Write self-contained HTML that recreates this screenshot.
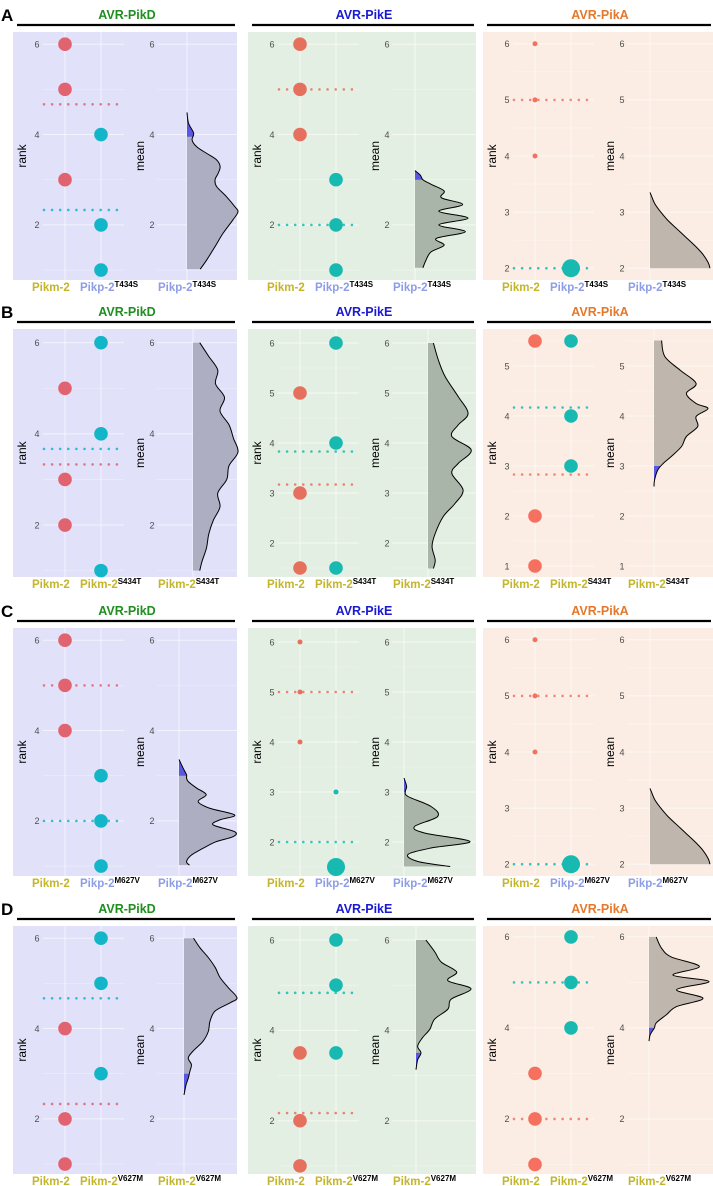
<!DOCTYPE html>
<html><head><meta charset="utf-8"><style>
html,body{margin:0;padding:0;background:#fff;}
svg{display:block;font-family:"Liberation Sans",sans-serif;}
</style></head><body>
<svg id="fig" width="713" height="1186" viewBox="0 0 713 1186" xmlns="http://www.w3.org/2000/svg"></svg>
<script>
// ---- data (panels row-major: A1..A3, B1..B3, C1..C3, D1..D3) ----
const panelNames = ['A-PikD','A-PikE','A-PikA','B-PikD','B-PikE','B-PikA','C-PikD','C-PikE','C-PikA','D-PikD','D-PikE','D-PikA'];
const effectors = ['AVR-PikD','AVR-PikE','AVR-PikA'];
const rowLetters = ['A','B','C','D'];
const secondLabel = ['Pikp-2','Pikm-2','Pikp-2','Pikm-2'];
const secondSup = ['T434S','S434T','M627V','V627M'];
const yLo = [0.78,0.78,1.79, 0.86,1.32,0.78, 0.78,1.32,1.79, 0.78,0.82,0.79];
const yHi = [6.27,6.27,6.21, 6.30,6.28,5.74, 6.27,6.28,6.21, 6.27,6.31,6.24];
const tickVals = [[2,4,6],[2,4,6],[2,3,4,5,6],[2,4,6],[2,3,4,5,6],[1,2,3,4,5],[2,4,6],[2,3,4,5,6],[2,3,4,5,6],[2,4,6],[2,4,6],[2,4,6]];
const redRanks = [[6,5,3],[6,5,4],[6,5,4],[5,3,2],[5,3,1.5],[5.5,2,1],[6,5,4],[6,5,4],[6,5,4],[4,2,1],[3.5,2,1],[3,2,1]];
const redSizes = [[1,1,1],[1,1,1],[1,1,1],[1,1,1],[1,1,1],[1,1,1],[1,1,1],[1,1,1],[1,1,1],[1,1,1],[1,1,1],[1,1,1]];
const cyanRanks = [[4,2,1],[3,2,1],[2],[6,4,1],[6,4,1.5],[5.5,4,3],[3,2,1],[3,1.5],[2],[6,5,3],[6,5,3.5],[6,5,4]];
const cyanSizes = [[1,1,1],[1,1,1],[12],[1,1,1],[1,1,1],[1,1,1],[1,1,1],[1,10],[12],[1,1,1],[1,1,1],[1,1,1]];
const redMean = [4.67,5,5, 3.33,3.17,2.83, 5,5,5, 2.33,2.17,2];
const cyanMean = [2.33,2,2, 3.67,3.83,4.17, 2,2,2, 4.67,4.83,5];
const densV = [
 [4.49,4.25,4.03,3.88,3.73,3.58,3.44,3.29,3.14,3.0,2.85,2.63,2.40,2.29,2.11,1.82,1.52,1.23,1.02],
 [3.2,3.1,3.0,2.9,2.75,2.6,2.45,2.3,2.15,2.0,1.85,1.7,1.55,1.4,1.2,1.05],
 [3.35,3.3,3.15,3.0,2.85,2.7,2.55,2.4,2.25,2.1,2.0],
 [6.0,5.7,5.4,5.1,4.8,4.5,4.2,3.9,3.6,3.3,3.0,2.7,2.4,2.1,1.8,1.5,1.2,1.0],
 [6.0,5.66,5.33,4.93,4.59,4.36,4.13,3.86,3.59,3.39,3.06,2.79,2.53,2.19,1.93,1.66,1.49],
 [5.51,5.19,4.92,4.65,4.45,4.25,4.15,3.99,3.79,3.59,3.39,3.19,3.05,2.92,2.72,2.59],
 [3.36,3.17,3.02,2.95,2.87,2.73,2.58,2.43,2.28,2.13,2.02,1.91,1.76,1.65,1.54,1.39,1.24,1.10,1.02],
 [3.28,3.11,3.01,2.91,2.71,2.51,2.31,2.18,2.01,1.88,1.75,1.61,1.51],
 [3.35,3.3,3.15,3.0,2.85,2.7,2.55,2.4,2.25,2.1,2.0],
 [6.0,5.79,5.57,5.35,5.13,4.90,4.68,4.57,4.39,4.16,3.94,3.72,3.50,3.35,3.20,3.05,2.90,2.76,2.53],
 [6.0,5.74,5.51,5.29,5.10,4.92,4.69,4.47,4.25,4.02,3.84,3.65,3.50,3.35,3.13],
 [6.0,5.75,5.56,5.35,5.16,5.02,4.84,4.65,4.47,4.29,4.11,4.0,3.85,3.71]
];
const densD = [
 [0,.03,.13,.10,.19,.39,.58,.65,.61,.55,.58,.77,.94,1,.90,.71,.55,.39,.26],
 [0,.1,.15,.3,.55,.5,.9,.45,1,.45,.95,.4,.55,.3,.2,.15],
 [0,.02,.08,.18,.3,.45,.6,.75,.88,.97,1],
 [.15,.35,.55,.5,.7,.6,.8,.9,1,.8,.75,.55,.6,.45,.35,.3,.2,.15],
 [.12,.23,.38,.67,.89,.67,.53,.96,.67,.53,.78,.60,.34,.16,.09,.16,.12],
 [.14,.20,.48,.78,.60,.78,1,.78,.81,.60,.51,.32,.17,.07,.01,0],
 [0,.07,.13,.13,.16,.30,.47,.33,.53,.96,.70,.59,.96,.93,.64,.41,.21,.13,.18],
 [0,.04,.02,.06,.41,.51,.16,.31,1,.41,.06,.21,.70],
 [0,.02,.08,.18,.3,.45,.6,.75,.88,.97,1],
 [.18,.30,.46,.59,.68,.84,1,.87,.59,.49,.46,.36,.17,.08,.14,.11,.08,.04,0],
 [.18,.34,.46,.74,.58,1,.64,.58,.34,.25,.12,.03,.09,.03,0],
 [.12,.21,.37,.84,.40,1,.46,.90,.46,.29,.12,.09,.02,0]
];
const blueLo = [null,null,null, null,null,3.0, null,null,null, 3.0,3.5,4.0];
const blueHi = [3.95,3.0,null, null,null,null, 3.0,3.0,null, null,null,null];

// ---- layout / style ----
const cols = [{L:13,R:237},{L:248,R:476},{L:483,R:713}];
const rowTop = [32,329,628,926];
const H = 248;
const densBase = [174,167,167, 180,180,171, 166,156,167, 171,168,166];
const densW = [51,53,60, 45,45,54, 58,66,60, 53,55,60];
const bgCol = ['#e1e1fa','#e4efe3','#fbede4'];
const redCol = ['#e1636f','#e6705e','#f6705f'];
const cyanCol = ['#13b5c9','#17b9b1','#17b9b1'];
const titleCol = ['#1f8f1f','#1a1ad0','#e5782a'];
const densFill = ['#aeaec3','#aab5aa','#bfb6ae'];
const YEL = '#c4b52a', BLU = '#8d9de6';

const NS = 'http://www.w3.org/2000/svg';
const svg = document.getElementById('fig');
function mk(tag, attrs, parent){
  const e = document.createElementNS(NS, tag);
  for (const k in attrs) e.setAttribute(k, attrs[k]);
  (parent||svg).appendChild(e);
  return e;
}
function crPath(pts){
  let d = 'M'+pts[0][0].toFixed(2)+','+pts[0][1].toFixed(2);
  for (let i=0;i<pts.length-1;i++){
    const p0=pts[i-1]||pts[i], p1=pts[i], p2=pts[i+1], p3=pts[i+2]||p2;
    const c1=[p1[0]+(p2[0]-p0[0])/6, p1[1]+(p2[1]-p0[1])/6];
    const c2=[p2[0]-(p3[0]-p1[0])/6, p2[1]-(p3[1]-p1[1])/6];
    d+=' C'+c1[0].toFixed(2)+','+c1[1].toFixed(2)+' '+c2[0].toFixed(2)+','+c2[1].toFixed(2)+' '+p2[0].toFixed(2)+','+p2[1].toFixed(2);
  }
  return d;
}

for (let r=0;r<4;r++){
  const lt = mk('text',{x:1,y:rowTop[r]-11,'font-size':17,'font-weight':'bold',fill:'#000'});
  
  
  lt.textContent = rowLetters[r];
  for (let c=0;c<3;c++){
    const p = r*3+c, L = cols[c].L, R = cols[c].R, top = rowTop[r], bot = top+H;
    const g = mk('g',{});
    
    
    const ys = v => bot - (v - yLo[p])/(yHi[p]-yLo[p])*H;
    // title
    const t = mk('text',{x:(L+R)/2+2,y:top-13,'text-anchor':'middle','font-size':12.5,'font-weight':'bold',fill:titleCol[c]},g);
    
    
    t.textContent = effectors[c];
    const tl = mk('line',{x1:L+4,x2:R-2,y1:top-7,y2:top-7,stroke:'#000','stroke-width':2.2},g);
    
    
    // background
    const bg = mk('rect',{x:L,y:top,width:R-L,height:H,fill:bgCol[c]},g);
    
    
    // gridlines
    const tk = tickVals[p], step = tk[1]-tk[0];
    const minors = [];
    for (let v=tk[0]-step/2; v<=tk[tk.length-1]+step/2+1e-9; v+=step) if (v>yLo[p] && v<yHi[p]) minors.push(v);
    const regions = [[L+30,L+111],[L+144,R]];
    regions.forEach(([x1,x2])=>{
      minors.forEach(v=>{ const gl=mk('line',{x1,x2,y1:ys(v),y2:ys(v),stroke:'#fff','stroke-width':0.6,opacity:0.45},g);
          });
      tk.forEach(v=>{ const gl=mk('line',{x1,x2,y1:ys(v),y2:ys(v),stroke:'#fff','stroke-width':1,opacity:0.6},g);
          });
    });
    [L+52,L+88,L+densBase[p]].forEach(x=>{
      const vl=mk('line',{x1:x,x2:x,y1:top,y2:bot,stroke:'#fff','stroke-width':1,opacity:0.6},g);
       
    });
    // tick labels
    tk.forEach(v=>{
      [L+24, L+139].forEach(x=>{
        const tt=mk('text',{x,y:ys(v)+3.3,'text-anchor':'middle','font-size':9,fill:'#4d4d4d'},g);
         
        tt.textContent=v;
      });
    });
    // axis titles
    const cy=(top+bot)/2;
    const a1=mk('text',{x:L+13,y:cy,'text-anchor':'middle','font-size':12,fill:'#000',transform:`rotate(-90 ${L+13} ${cy})`},g);
      a1.textContent='rank';
    const a2=mk('text',{x:L+131,y:cy,'text-anchor':'middle','font-size':12,fill:'#000',transform:`rotate(-90 ${L+131} ${cy})`},g);
      a2.textContent='mean';
    // mean lines
    [[redMean[p],redCol[c]],[cyanMean[p],cyanCol[c]]].forEach(([m,col],si)=>{
      for (let x=L+31; x<=L+111; x+=8.1){
        const d=mk('circle',{cx:x,cy:ys(m),r:1.3,fill:col,opacity:0.85},g);
        
        
      }
    });
    // points
    const allN = redSizes[p].concat(cyanSizes[p]);
    const nmin=Math.min(...allN), nmax=Math.max(...allN);
    const rad = n => nmax===nmin ? 6.8 : 2.5 + (Math.sqrt(n)-Math.sqrt(nmin))/(Math.sqrt(nmax)-Math.sqrt(nmin))*6.5;
    redRanks[p].forEach((v,i)=>{
      const pt=mk('circle',{cx:L+52,cy:ys(v),r:rad(redSizes[p][i]),fill:redCol[c]},g);
       
    });
    cyanRanks[p].forEach((v,i)=>{
      const pt=mk('circle',{cx:L+88,cy:ys(v),r:rad(cyanSizes[p][i]),fill:cyanCol[c]},g);
       
    });
    // density
    const bx = L+densBase[p], W = densW[p];
    const pts = densV[p].map((v,i)=>[bx+densD[p][i]*W, ys(v)]);
    const curve = crPath(pts);
    const yTop = ys(densV[p][0]), yBot = ys(densV[p][densV[p].length-1]);
    const area = `M${bx},${yTop} L${pts[0][0]},${pts[0][1]} ` + curve.slice(curve.indexOf('C')) + ` L${bx},${yBot} Z`;
    const fa=mk('path',{d:area,fill:densFill[c]},g);
     
    const cid='clip'+p;
    const cp=mk('clipPath',{id:cid},g);
    let hasBlue=false;
    if (blueLo[p]!==null){ mk('rect',{x:bx-1,y:ys(blueLo[p]),width:W+4,height:bot-ys(blueLo[p])},cp); hasBlue=true; }
    if (blueHi[p]!==null){ mk('rect',{x:bx-1,y:top,width:W+4,height:ys(blueHi[p])-top},cp); hasBlue=true; }
    if (hasBlue){
      const ba=mk('path',{d:area,fill:'#5858e2','clip-path':`url(#${cid})`},g);
       
    }
    const ln=mk('path',{d:curve,fill:'none',stroke:'#000','stroke-width':1},g);
     
    // x labels
    const ly = bot+11;
    const x1=mk('text',{x:L+19,y:ly,'font-size':11.5,'font-weight':'bold',fill:YEL},g);
      x1.textContent='Pikm-2';
    const lc = secondLabel[r]==='Pikp-2'?BLU:YEL;
    [[L+67,'x-label-variant'],[L+145,'x-label-density']].forEach(([x,nm])=>{
      const tx=mk('text',{x,y:ly,'font-size':11.5,'font-weight':'bold',fill:lc},g);
       
      tx.appendChild(document.createTextNode(secondLabel[r]));
      const s=mk('tspan',{'font-size':8,dy:-4,fill:'#000'},tx);
      s.textContent=secondSup[r];
    });
  }
}
</script>
</body></html>
